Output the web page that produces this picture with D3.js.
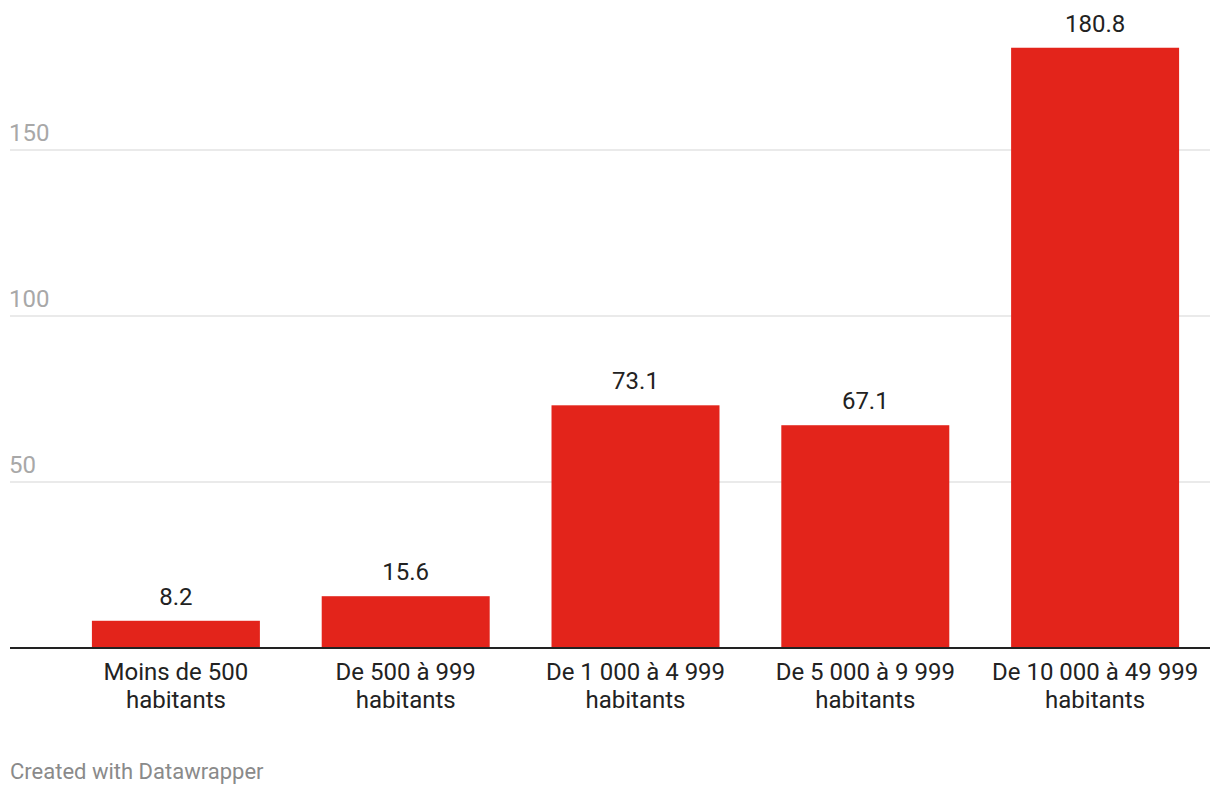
<!DOCTYPE html>
<html><head><meta charset="utf-8">
<script src="https://cdn.jsdelivr.net/npm/d3@7"></script>
<style>
body{margin:0;background:#fff;}
svg text{font-family:Roboto, "Noto Sans", sans-serif;}
</style></head>
<body><svg id="c" width="1220" height="796"></svg>
<script>
const categories = [["Moins de 500","habitants"],["De 500 à 999","habitants"],["De 1 000 à 4 999","habitants"],["De 5 000 à 9 999","habitants"],["De 10 000 à 49 999","habitants"]];
const values = [8.2, 15.6, 73.1, 67.1, 180.8];
const valueLabels = ["8.2","15.6","73.1","67.1","180.8"];
const yTicks = [50, 100, 150];

const svg = d3.select("#c");
const x = d3.scaleBand().domain(d3.range(values.length)).range([61, 1210]).paddingInner(0.269).paddingOuter(0.1345);
const y = d3.scaleLinear().domain([0,150]).range([648,150]);

const grid = svg.append("g");
grid.selectAll("line").data(yTicks).join("line")
  .attr("x1",10).attr("x2",1210).attr("y1",d=>y(d)).attr("y2",d=>y(d))
  .attr("stroke","#e3e3e3").attr("stroke-width",1.5);
grid.selectAll("text").data(yTicks).join("text")
  .attr("x",9).attr("y",d=>y(d)-9).attr("fill","#a8a8a8").attr("font-size",24).text(d=>d);

svg.append("g").selectAll("rect").data(values).join("rect")
  .attr("x",(d,i)=>x(i)).attr("width",x.bandwidth())
  .attr("y",d=>y(d)).attr("height",d=>y(0)-y(d)).attr("fill","#e3241b");

svg.append("line").attr("x1",10).attr("x2",1210).attr("y1",y(0)).attr("y2",y(0)).attr("stroke","#222").attr("stroke-width",2);

svg.append("g").selectAll("text").data(values).join("text")
  .attr("x",(d,i)=>x(i)+x.bandwidth()/2).attr("y",d=>y(d)-16)
  .attr("text-anchor","middle").attr("fill","#222").attr("font-size",24)
  .text((d,i)=>valueLabels[i]);

const cl = svg.append("g").selectAll("text").data(categories).join("text")
  .attr("x",(d,i)=>x(i)+x.bandwidth()/2).attr("y",680)
  .attr("text-anchor","middle").attr("fill","#222").attr("font-size",24);
cl.each(function(d){
  const t=d3.select(this);
  d.forEach((s,k)=>t.append("tspan").attr("x",t.attr("x")).attr("dy",k?28:0).text(s));
});

svg.append("text").attr("x",10).attr("y",779).attr("fill","#8a8a8a").attr("font-size",22).text("Created with Datawrapper");
</script></body></html>
